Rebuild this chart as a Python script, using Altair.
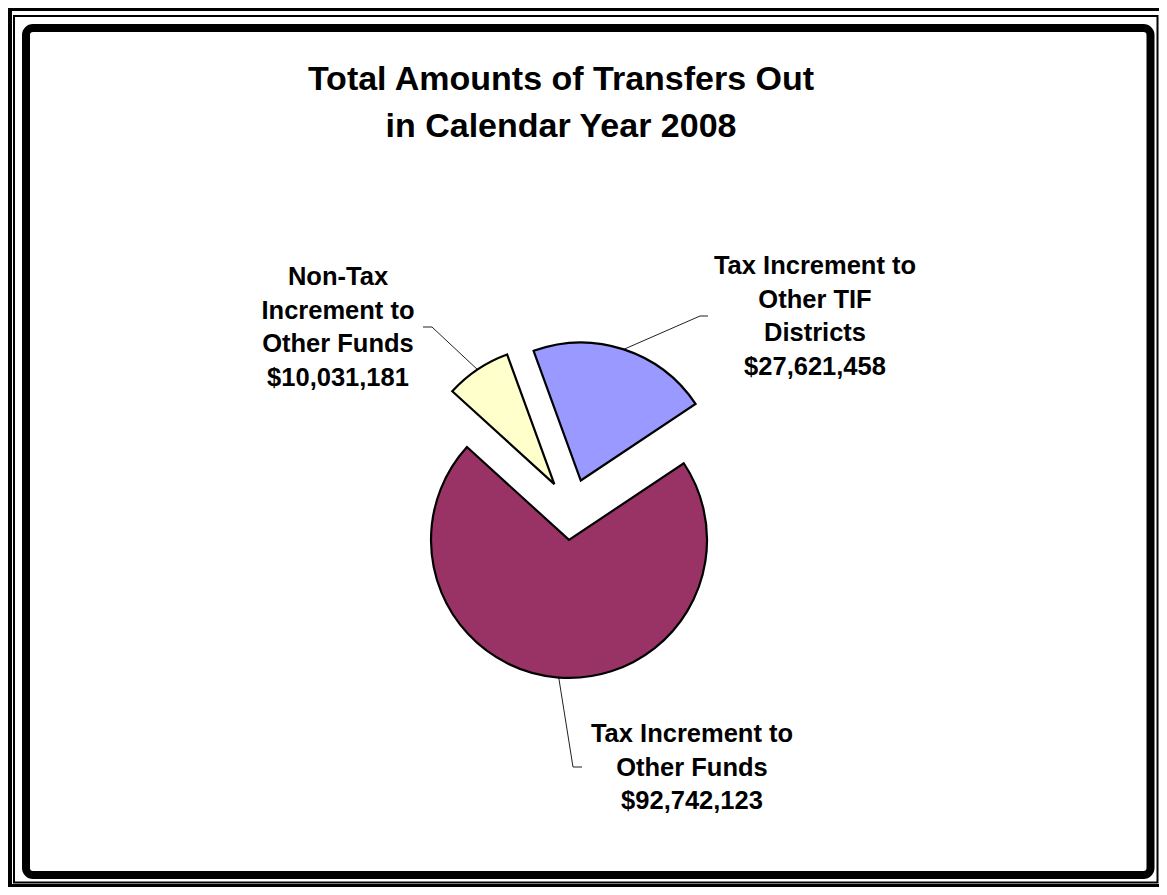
import altair as alt
import pandas as pd

# ---------------- data ----------------
categories = [
    "Tax Increment to Other TIF Districts",
    "Tax Increment to Other Funds",
    "Non-Tax Increment to Other Funds",
]
values = [27621458, 92742123, 10031181]
colors = ["#9999FF", "#993366", "#FFFFCC"]
label_lines = {
    "Tax Increment to Other TIF Districts": ["Tax Increment to", "Other TIF", "Districts"],
    "Tax Increment to Other Funds": ["Tax Increment to", "Other Funds"],
    "Non-Tax Increment to Other Funds": ["Non-Tax", "Increment to", "Other Funds"],
}
title_lines = ["Total Amounts of Transfers Out", "in Calendar Year 2008"]

# ---------------- layout (pixels in the plot area) ----------------
W, H = 1151, 879
CX, CY = 563.3, 501.5
R = 138
EXPLODE = 30.5
START_DEG = -20.0
FONT = "Liberation Sans"

label_pos = {
    "Tax Increment to Other TIF Districts": (807, 266),
    "Tax Increment to Other Funds": (684, 734),
    "Non-Tax Increment to Other Funds": (330, 277),
}
leader_elbow = {
    "Tax Increment to Other TIF Districts": (692, 308),
    "Tax Increment to Other Funds": (565, 759),
    "Non-Tax Increment to Other Funds": (424, 319),
}
leader_end = {
    "Tax Increment to Other TIF Districts": (700, 308),
    "Tax Increment to Other Funds": (574, 759),
    "Non-Tax Increment to Other Funds": (415, 319),
}

df = pd.DataFrame({
    "category": categories,
    "value": values,
    "idx": list(range(len(categories))),
    "color": colors,
    "label": ["\n".join(label_lines[c] + [f"${v:,}"]) for c, v in zip(categories, values)],
    "lx": [label_pos[c][0] for c in categories],
    "ly": [label_pos[c][1] for c in categories],
    "ex": [leader_elbow[c][0] for c in categories],
    "ey": [leader_elbow[c][1] for c in categories],
    "tx": [leader_end[c][0] for c in categories],
    "ty": [leader_end[c][1] for c in categories],
})

start = f"({START_DEG}*PI/180)"
base = (
    alt.Chart(df)
    .transform_joinaggregate(total="sum(value)")
    .transform_window(cum="sum(value)", sort=[alt.SortField("idx")], frame=[None, 0])
    .transform_calculate(
        t1=f"{start} + 2*PI*datum.cum/datum.total",
        t0=f"{start} + 2*PI*(datum.cum - datum.value)/datum.total",
    )
    .transform_calculate(mid="(datum.t0 + datum.t1)/2")
    .transform_calculate(
        px=f"{CX} + {EXPLODE}*sin(datum.mid)",
        py=f"{CY} - {EXPLODE}*cos(datum.mid)",
    )
    .transform_calculate(
        ax=f"datum.px + {R}*sin(datum.mid)",
        ay=f"datum.py - {R}*cos(datum.mid)",
    )
)

def X(f):
    return alt.X(f"{f}:Q", scale=None, axis=None)

def Y(f):
    return alt.Y(f"{f}:Q", scale=None, axis=None)

arcs = base.mark_arc(outerRadius=R, stroke="black", strokeWidth=2.2, strokeJoin="miter").encode(
    x=X("px"), y=Y("py"),
    theta=alt.Theta("t0:Q", scale=None),
    theta2=alt.Theta2("t1:Q"),
    color=alt.Color("color:N", scale=None, legend=None),
)

leader1 = base.mark_rule(color="#222222", strokeWidth=1).encode(
    x=X("ax"), y=Y("ay"), x2=alt.X2("ex:Q"), y2=alt.Y2("ey:Q"),
)
leader2 = base.mark_rule(color="#222222", strokeWidth=1).encode(
    x=X("ex"), y=Y("ey"), x2=alt.X2("tx:Q"), y2=alt.Y2("ty:Q"),
)

labels = base.mark_text(
    font=FONT, fontSize=25.5, fontWeight="bold", color="black",
    align="center", baseline="alphabetic", lineBreak="\n", lineHeight=33.5,
).encode(x=X("lx"), y=Y("ly"), text="label:N")

title_df = pd.DataFrame({"t": ["\n".join(title_lines)]})
title = alt.Chart(title_df).mark_text(
    font=FONT, fontSize=34, fontWeight="bold", color="black",
    align="center", baseline="alphabetic", lineBreak="\n", lineHeight=47,
).encode(x=alt.value(553), y=alt.value(82), text="t:N")

one = pd.DataFrame({"d": [0]})
outer_thick = alt.Chart(one).mark_rect(filled=False, color="black", strokeWidth=12).encode(
    x=alt.value(-2), x2=alt.value(1157), y=alt.value(-3), y2=alt.value(882)
)
outer_thin = alt.Chart(one).mark_rect(filled=False, color="black", strokeWidth=2).encode(
    x=alt.value(6), x2=alt.value(1149.5), y=alt.value(8), y2=alt.value(874.5)
)
inner = alt.Chart(one).mark_rect(filled=False, color="black", strokeWidth=8, cornerRadius=7).encode(
    x=alt.value(18), x2=alt.value(1142.5), y=alt.value(20), y2=alt.value(867)
)

chart = (
    alt.layer(outer_thick, outer_thin, inner, title, leader1, leader2, arcs, labels)
    .properties(width=W, height=H, padding=0, autosize=alt.AutoSizeParams(type="none"),
                background="white")
    .configure_view(stroke="transparent")
)

chart.save("out.html", embed_options={"renderer": "svg", "actions": False})
